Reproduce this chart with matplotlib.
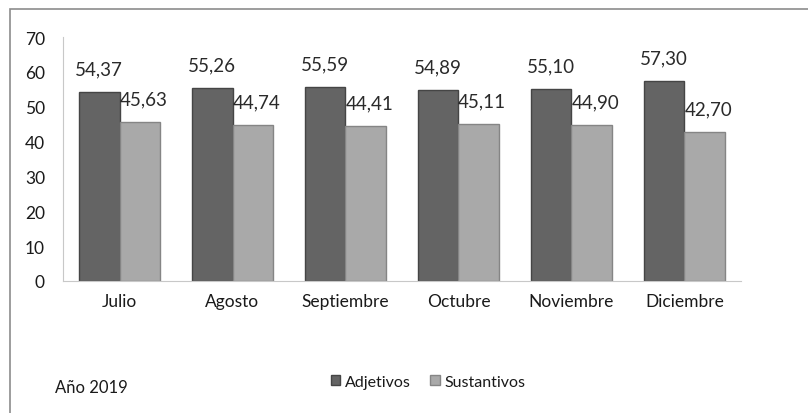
import numpy as np
import matplotlib.pyplot as plt
from matplotlib.patches import Rectangle

# data
meses = ["Julio", "Agosto", "Septiembre", "Octubre", "Noviembre", "Diciembre"]
adjetivos = [54.37, 55.26, 55.59, 54.89, 55.10, 57.30]
sustantivos = [45.63, 44.74, 44.41, 45.11, 44.90, 42.70]

plt.rcParams['font.family'] = ['Lato', 'DejaVu Sans']

fig = plt.figure(figsize=(8.08, 4.14), dpi=100)
ax = fig.add_axes([0.078, 0.319, 0.839, 0.589])

x = np.arange(len(meses))
w = 0.36
dark = "#646464"
light = "#a9a9a9"

ax.bar(x - w / 2, adjetivos, w, color=dark, edgecolor="#454545", linewidth=1, label="Adjetivos")
ax.bar(x + w / 2, sustantivos, w, color=light, edgecolor="#858585", linewidth=1, label="Sustantivos")

def fmt(v):
    return f"{v:.2f}".replace(".", ",")

for i in range(len(meses)):
    ax.text(x[i] - w / 2, adjetivos[i] + 4.2, fmt(adjetivos[i]), ha="center", va="bottom",
            fontsize=13.5, color="#2a2a2a")
    ax.text(x[i] + w / 2 + 0.03, sustantivos[i] + 4.2, fmt(sustantivos[i]), ha="center", va="bottom",
            fontsize=13.5, color="#2a2a2a")

ax.set_ylim(0, 70)
ax.set_xlim(-0.5, len(meses) - 0.5)
ax.set_yticks(range(0, 71, 10))
ax.set_xticks(x)
ax.set_xticklabels(meses)
ax.tick_params(length=0, labelsize=12.5, colors="#1a1a1a")
ax.tick_params(axis="y", pad=13)
ax.tick_params(axis="x", pad=9)
for s in ["top", "right"]:
    ax.spines[s].set_visible(False)
for s in ["left", "bottom"]:
    ax.spines[s].set_color("#c8c8c8")

fig.legend(loc="center", bbox_to_anchor=(0.53, 0.075), ncol=2, frameon=False, fontsize=11.5,
           handlelength=0.6, handleheight=0.6, handletextpad=0.3, columnspacing=1.2,
           labelcolor="#1a1a1a")
fig.text(0.068, 0.062, "Año 2019", fontsize=12, color="#1a1a1a", va="center")

# outer chart border
fig.patches.append(Rectangle((10 / 808, -0.1), 1.2, (404 / 414) + 0.1, transform=fig.transFigure,
                             fill=False, edgecolor="#8c8c8c", linewidth=1.2))

fig.savefig("out.png", dpi=100)
